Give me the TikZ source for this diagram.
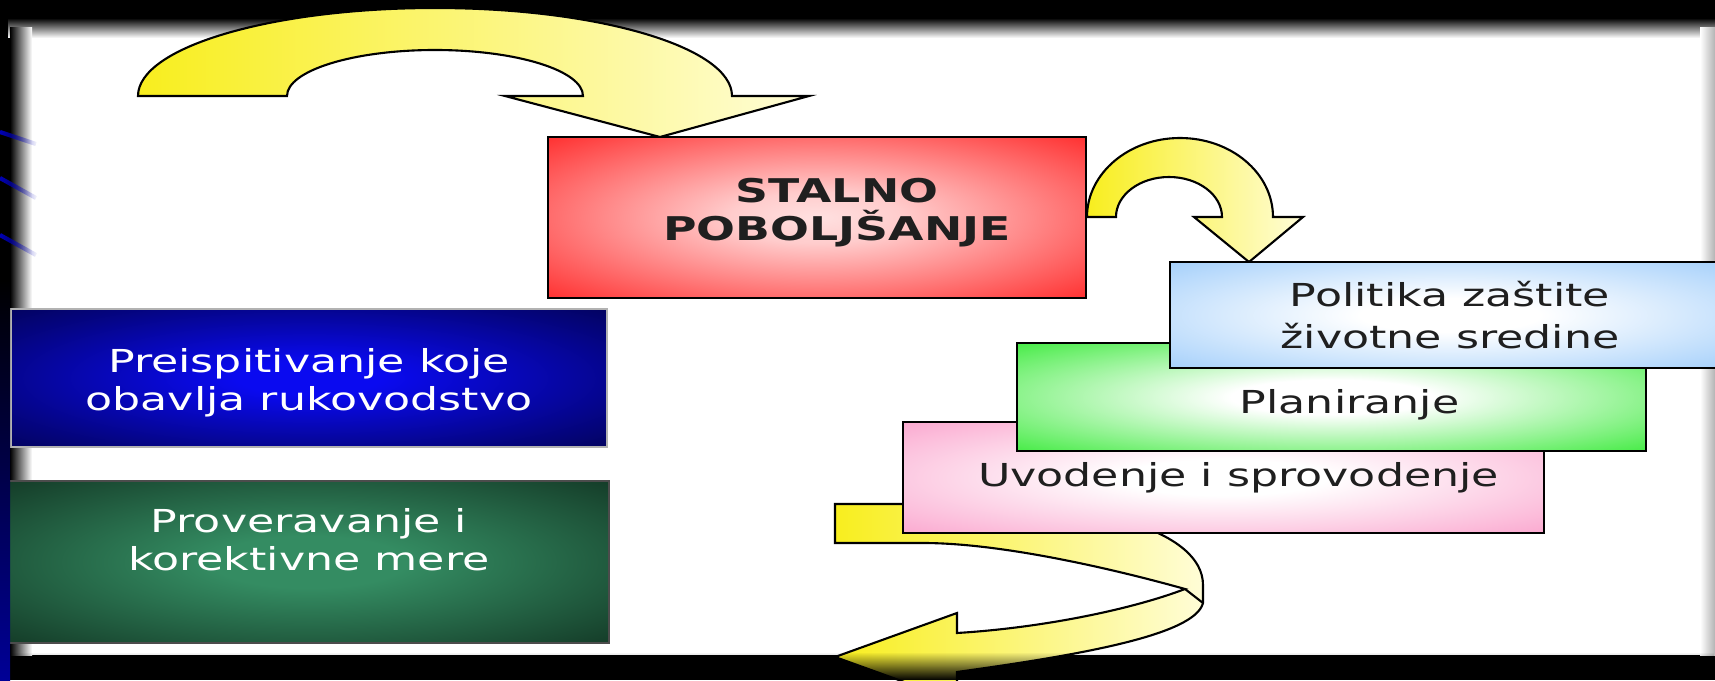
\documentclass[tikz,border=0pt]{standalone}
\usepackage{fontspec}
\usetikzlibrary{fadings}
\newfontfamily\boxfont[FakeStretch=1.4]{DejaVu Sans}
\definecolor{ylw}{RGB}{248,238,30}
\definecolor{ylwpale}{RGB}{255,253,215}
\definecolor{lblue}{RGB}{150,200,250}
\definecolor{lgreen}{RGB}{40,232,40}
\definecolor{lpink}{RGB}{250,155,200}
\definecolor{navymid}{RGB}{10,10,240}
\definecolor{navyedge}{RGB}{0,0,40}
\definecolor{dkgmid}{RGB}{52,140,98}
\definecolor{dkgedge}{RGB}{6,24,14}
\definecolor{bandblue}{RGB}{0,0,150}
% glow from the middle of each box
\pgfdeclareradialshading{redglow}{\pgfpoint{0bp}{0bp}}{color(0bp)=(white!88!red);color(8bp)=(white!80!red);color(44bp)=(red);color(80bp)=(red)}
\pgfdeclareradialshading{blueglow}{\pgfpoint{0bp}{0bp}}{color(0bp)=(white);color(8bp)=(white);color(40bp)=(lblue);color(80bp)=(lblue)}
\pgfdeclareradialshading{greenglow}{\pgfpoint{0bp}{0bp}}{color(0bp)=(white);color(8bp)=(white);color(40bp)=(lgreen);color(80bp)=(lgreen)}
\pgfdeclareradialshading{pinkglow}{\pgfpoint{0bp}{0bp}}{color(0bp)=(white);color(8bp)=(white);color(40bp)=(lpink);color(80bp)=(lpink)}
\pgfdeclareradialshading{navyglow}{\pgfpoint{0bp}{0bp}}{color(0bp)=(navymid);color(6bp)=(navymid);color(28bp)=(navymid!45!navyedge);color(48bp)=(navyedge);color(80bp)=(navyedge)}
\pgfdeclareradialshading{dkgglow}{\pgfpoint{0bp}{0bp}}{color(0bp)=(dkgmid);color(8bp)=(dkgmid);color(48bp)=(dkgedge);color(80bp)=(dkgedge)}

\begin{document}
\begin{tikzpicture}[x=0.1mm,y=0.1mm,
    box/.style={shade,draw,line width=0.7pt,inner sep=0pt},
    txt/.style={font=\boxfont\fontsize{9}{11.9}\selectfont,align=center,inner sep=0pt,text=black!88},
    bigarrow/.style={draw,line width=0.6pt,left color=ylw,right color=ylwpale}]
  \useasboundingbox (0,0) rectangle (1715,680);
  % frame
  \fill[black] (0,0) rectangle (1715,680);
  \fill[white] (30,25) rectangle (1700,642);
  \shade[top color=black,bottom color=white] (8,642) rectangle (1715,662);
  \shade[left color=black,right color=white] (10,25) rectangle (32,652);
  \shade[left color=white,right color=black!30] (1700,25) rectangle (1715,652);
  \foreach \y/\d in {548/12,502/20,445/20}
    \draw[blue!75!black,line width=1.2pt,path fading=east] (0,\y) -- (36,\y-\d);

  % arrows on top
  \path[bigarrow] (138,584) arc[start angle=180,end angle=0,x radius=297,y radius=88]
    -- (809,584) -- (660,543) -- (505,584) -- (583,584)
    arc[start angle=0,end angle=180,x radius=148,y radius=46] -- cycle;
  \path[bigarrow] (1087,463) arc[start angle=180,end angle=0,x radius=93,y radius=79]
    -- (1303,463) -- (1249,418) -- (1194,463) -- (1222,463)
    arc[start angle=0,end angle=180,x radius=53,y radius=40] -- cycle;

  \node[box,shading=redglow,minimum width=53.8mm,minimum height=16.1mm] (stalno) at (817,462.5) {};
  \node[txt,font=\boxfont\bfseries\fontsize{9.3}{10.8}\selectfont] (stalnoTxt) at ([xshift=2mm,yshift=0.5mm]stalno.center) {STALNO\\POBOLJŠANJE};

  % arrow under the steps
  \path[bigarrow] (835,176) -- (1000,176) .. controls (1090,176) and (1203,150) .. (1203,95) -- (1203,77)
    .. controls (1195,45) and (1080,25) .. (957,8) -- (957,-21) -- (835,23) -- (957,67) -- (957,47)
    .. controls (1040,52) and (1130,70) .. (1185,91)
    .. controls (1110,112) and (1000,137) .. (923,137) -- (835,137) -- cycle;
  \draw[line width=0.6pt] (1185,91) -- (1203,77);

  % steps
  \node[box,shading=pinkglow,minimum width=64.1mm,minimum height=11.1mm] (uvod) at (1223.5,202.5) {};
  \node[txt] (uvodTxt) at ([xshift=1.5mm]uvod.center) {Uvodenje i sprovodenje};
  \node[box,shading=greenglow,minimum width=62.9mm,minimum height=10.8mm] (plan) at (1331.5,283) {};
  \node[txt] (planTxt) at ([xshift=1.8mm,yshift=-0.8mm]plan.center) {Planiranje};
  \node[box,shading=blueglow,minimum width=56mm,minimum height=10.6mm] (politika) at (1450,365) {};
  \node[txt] (politikaTxt) at (politika.center) {Politika zaštite\\životne sredine};

  % left column
  \node[box,shading=navyglow,draw=gray!60,line width=0.5pt,minimum width=59.6mm,minimum height=13.8mm] (preisp) at (309,302) {};
  \node[txt,text=white,font=\boxfont\fontsize{9}{10.8}\selectfont] (preispTxt) at ([yshift=-0.5mm]preisp.center) {Preispitivanje koje\\obavlja rukovodstvo};
  \node[box,shading=dkgglow,draw=black!70,line width=0.5pt,minimum width=60mm,minimum height=16.2mm] (prov) at (309,118) {};
  \node[txt,text=white,font=\boxfont\fontsize{9}{10.8}\selectfont] (provTxt) at ([yshift=2.2mm]prov.center) {Proveravanje i\\korektivne mere};

  \fill[black,path fading=north] (0,0) rectangle (1715,28);
  \shade[top color=black,bottom color=bandblue] (0,0) rectangle (10,400);
\end{tikzpicture}
\end{document}
